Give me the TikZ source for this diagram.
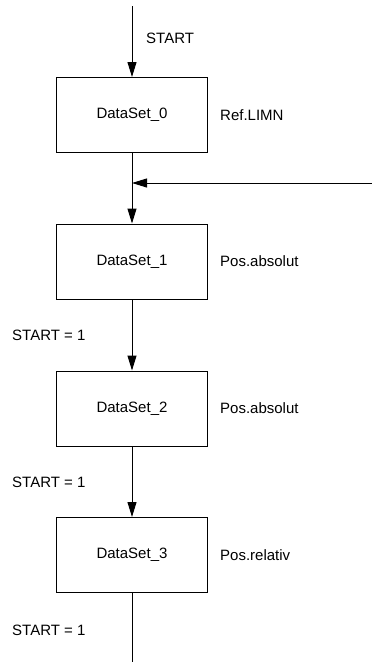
\documentclass[tikz,border=0pt]{standalone}
\usepackage{fontspec}
\setmainfont{Liberation Sans}
\usetikzlibrary{positioning,arrows.meta}
\tikzstyle{dsbox} = [draw=black, line width=1pt, rectangle, inner sep=0pt,
    minimum width=151pt, minimum height=75pt, font=\fontsize{15}{18}\selectfont]
\tikzstyle{flow} = [line width=1pt, -{Triangle[length=15pt,width=9pt]}]
\tikzstyle{lbl} = [inner sep=0pt, anchor=west, font=\fontsize{15}{18}\selectfont]

\begin{document}
\begin{tikzpicture}[x=1pt,y=-1pt]
    \useasboundingbox (0,0) rectangle (372,662);
    % data sets
    \node [dsbox] (ds0) at (132,115) {DataSet\_0};
    \node [dsbox] (ds1) at (132,261.5) {DataSet\_1};
    \node [dsbox] (ds2) at (132,408.5) {DataSet\_2};
    \node [dsbox] (ds3) at (132,555) {DataSet\_3};
    \node [lbl, right=12pt of ds0] (mode0) {Ref.LIMN};
    \node [lbl, right=12pt of ds1] (mode1) {Pos.absolut};
    \node [lbl, right=12pt of ds2] (mode2) {Pos.absolut};
    \node [lbl, right=12pt of ds3] (mode3) {Pos.relativ};
    % conditions
    \node [lbl] (start) at (146,38) {START};
    \node [lbl] (cond1) at (12,335) {START = 1};
    \node [lbl] (cond2) at (12,482) {START = 1};
    \node [lbl] (cond3) at (12,630) {START = 1};
    % connectors
    \coordinate (in) at (132,6);
    \coordinate (join) at (132,183);
    \coordinate (feed) at (372,183);
    \coordinate (out) at (132,662);
    \draw [flow] (in) -- (ds0);
    \draw [flow] (ds0) -- (ds1);
    \draw [flow] (feed) -- (join);
    \draw [flow] (ds1) -- (ds2);
    \draw [flow] (ds2) -- (ds3);
    \draw [line width=1pt] (ds3) -- (out);
\end{tikzpicture}
\end{document}
